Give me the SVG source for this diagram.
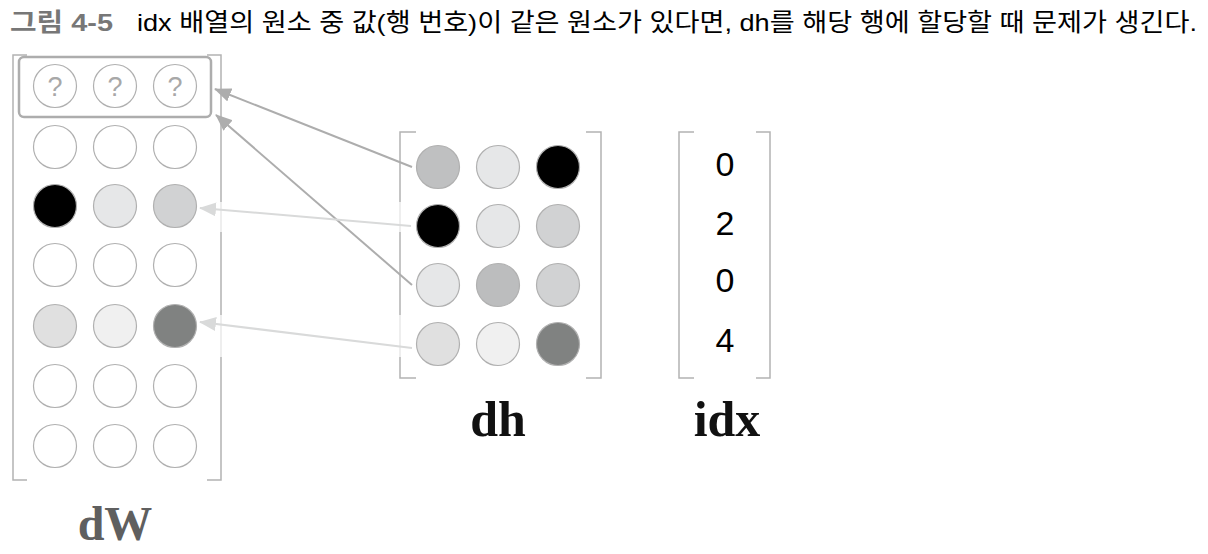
<svg xmlns="http://www.w3.org/2000/svg" width="1208" height="554" viewBox="0 0 1208 554">
<defs>
<style>
.br{fill:none;stroke:#b3b3b3;stroke-width:1.5}
.c{stroke:#b0b0b0;stroke-width:1.2}
.e{fill:#fff}
.t{font-family:"Liberation Sans","Noto Sans CJK KR",sans-serif;font-size:24.5px}
.q{font-family:"Liberation Sans",Arial,sans-serif;font-size:27px;fill:#a8a8a8;text-anchor:middle}
.num{font-family:"Liberation Sans",Arial,sans-serif;font-size:34px;fill:#000;text-anchor:middle}
.lbl{font-family:"Liberation Serif","Times New Roman",serif;font-weight:bold;text-anchor:middle}
.a1{stroke:#adadad;stroke-width:2;fill:none}
.a2{stroke:#d9dada;stroke-width:2;fill:none}
</style>
<marker id="h1" markerUnits="userSpaceOnUse" markerWidth="18" markerHeight="14" refX="16" refY="7" orient="auto"><path d="M0,0 L17,7 L0,14 Z" fill="#adadad"/></marker>
<marker id="h2" markerUnits="userSpaceOnUse" markerWidth="18" markerHeight="14" refX="16" refY="7" orient="auto"><path d="M0,0 L17,7 L0,14 Z" fill="#d9dada"/></marker>
</defs>
<rect width="1208" height="554" fill="#fff"/>
<g id="title">
<text class="t" x="10" y="31" font-weight="bold" fill="#777" textLength="103" lengthAdjust="spacingAndGlyphs">그림 4-5</text>
<text class="t" x="137" y="31" fill="#000" textLength="1060" lengthAdjust="spacingAndGlyphs">idx 배열의 원소 중 값(행 번호)이 같은 원소가 있다면, dh를 해당 행에 할당할 때 문제가 생긴다.</text>
</g>

<g id="dW">
<path class="br" d="M27,55 H13 V480 H27 M207,55 H221 V480 H207"/>
<rect x="19" y="57" width="192" height="60" rx="5" fill="#fff" stroke="#adadad" stroke-width="2.5"/>
<g class="c">
<circle class="e" cx="55" cy="86" r="21.5"/><circle class="e" cx="115" cy="86" r="21.5"/><circle class="e" cx="175" cy="86" r="21.5"/>
<circle class="e" cx="55" cy="147" r="21.5"/><circle class="e" cx="115" cy="147" r="21.5"/><circle class="e" cx="175" cy="147" r="21.5"/>
<circle cx="55" cy="206" r="21.5" fill="#000"/><circle cx="115" cy="206" r="21.5" fill="#e6e7e8"/><circle cx="175" cy="206" r="21.5" fill="#d1d2d3"/>
<circle class="e" cx="55" cy="265" r="21.5"/><circle class="e" cx="115" cy="265" r="21.5"/><circle class="e" cx="175" cy="265" r="21.5"/>
<circle cx="55" cy="326" r="21.5" fill="#e0e0e0"/><circle cx="115" cy="326" r="21.5" fill="#f0f0f0"/><circle cx="175" cy="326" r="21.5" fill="#808281"/>
<circle class="e" cx="55" cy="386" r="21.5"/><circle class="e" cx="115" cy="386" r="21.5"/><circle class="e" cx="175" cy="386" r="21.5"/>
<circle class="e" cx="55" cy="446" r="21.5"/><circle class="e" cx="115" cy="446" r="21.5"/><circle class="e" cx="175" cy="446" r="21.5"/>
</g>
<text class="q" x="55" y="96">?</text><text class="q" x="115" y="96">?</text><text class="q" x="175" y="96">?</text>
<text class="lbl" x="115" y="540" font-size="48" fill="#5f5f5f">dW</text>
</g>

<g id="dh">
<path class="br" d="M416,132 H400 V378 H416 M586,132 H601 V378 H586"/>
<g class="c">
<circle cx="438" cy="167" r="21.5" fill="#bfc0c1"/><circle cx="498" cy="167" r="21.5" fill="#e6e7e8"/><circle cx="558" cy="167" r="21.5" fill="#000"/>
<circle cx="438" cy="226" r="21.5" fill="#000"/><circle cx="498" cy="226" r="21.5" fill="#e6e7e8"/><circle cx="558" cy="226" r="21.5" fill="#d1d2d3"/>
<circle cx="438" cy="285" r="21.5" fill="#e6e7e8"/><circle cx="498" cy="285" r="21.5" fill="#bcbdbe"/><circle cx="558" cy="285" r="21.5" fill="#d1d2d3"/>
<circle cx="438" cy="344" r="21.5" fill="#e0e0e0"/><circle cx="498" cy="344" r="21.5" fill="#f0f0f0"/><circle cx="558" cy="344" r="21.5" fill="#808281"/>
</g>
<text class="lbl" x="498" y="436" font-size="50" fill="#111">dh</text>
</g>

<g id="idx">
<path class="br" d="M694,132 H679 V378 H694 M756,132 H770 V378 H756"/>
<text class="num" x="725" y="176">0</text>
<text class="num" x="725" y="235">2</text>
<text class="num" x="725" y="292">0</text>
<text class="num" x="725" y="352">4</text>
<text class="lbl" x="727" y="436" font-size="50" fill="#111">idx</text>
</g>

<g id="connectors">
<rect x="198" y="202" width="214" height="30" fill="#fff" opacity="0.7"/>
<rect x="198" y="315" width="214" height="42" fill="#fff" opacity="0.7"/>
<line class="a1" x1="412" y1="167" x2="215" y2="89" marker-end="url(#h1)"/>
<line class="a1" x1="412" y1="285" x2="216" y2="115" marker-end="url(#h1)"/>
<line class="a2" x1="411" y1="226" x2="200" y2="208" marker-end="url(#h2)"/>
<line class="a2" x1="412" y1="348" x2="200" y2="322" marker-end="url(#h2)"/>
</g>
</svg>
